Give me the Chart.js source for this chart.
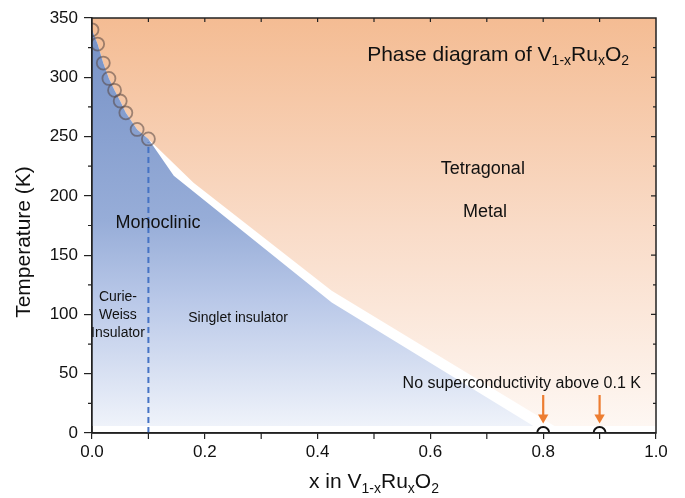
<!DOCTYPE html>
<html>
<head>
<meta charset="utf-8">
<script src="https://cdn.jsdelivr.net/npm/chart.js@4.4.1/dist/chart.umd.min.js"></script>
<style>
  html, body { margin: 0; padding: 0; background: #fff; }
</style>
</head>
<body>
<canvas id="phaseChart" width="685" height="498"></canvas>
<script>
// transition temperatures (K) for low Ru content
var dopingX = [0, 0.01, 0.02, 0.03, 0.04, 0.05, 0.06, 0.08, 0.10];
var transitionT = [340, 328, 312, 299, 289, 280, 270, 256, 248];

// monoclinic / tetragonal boundaries past the measured points
var monoTailX = [0.145, 0.425, 0.782];
var monoTailT = [217, 110, 6];
var tetraTailX = [0.18, 0.425, 0.82, 1.0];
var tetraTailT = [211, 120, 6, 6];
var regionFloor = 6;

// Curie-Weiss / singlet crossover
var crossoverX = [0.1, 0.1];
var crossoverT = [0, 245];

// samples checked for superconductivity
var scX = [0.8, 0.9];
var scT = [0, 0];
var arrowTop = 32, arrowTip = 13;

var xTicks = [0, 0.2, 0.4, 0.6, 0.8, 1.0];
var yTicks = [0, 50, 100, 150, 200, 250, 300, 350];

var FONT = '"Liberation Sans", Arial, sans-serif';

function pts(xs, ys) {
  return xs.map(function (x, i) { return { x: x, y: ys[i] }; });
}

function vGrad(chart, stops) {
  var a = chart.chartArea;
  if (!a) return null;
  var g = chart.ctx.createLinearGradient(0, a.top, 0, a.bottom);
  stops.forEach(function (s) { g.addColorStop(s[0], s[1]); });
  return g;
}

// text with subscripts, centred on (cx, cy)
function drawRuns(c, runs, cx, cy, size) {
  var sub = Math.round(size * 0.65);
  var w = 0;
  runs.forEach(function (r) {
    c.font = (r[1] ? sub : size) + 'px ' + FONT;
    w += c.measureText(r[0]).width;
  });
  var x = cx - w / 2;
  c.textAlign = 'left';
  c.textBaseline = 'middle';
  runs.forEach(function (r) {
    c.font = (r[1] ? sub : size) + 'px ' + FONT;
    c.fillText(r[0], x, cy + (r[1] ? size * 0.32 : 0));
    x += c.measureText(r[0]).width;
  });
}

var labels = [
  { runs: [['Phase diagram of V'], ['1-x', 1], ['Ru'], ['x', 1], ['O'], ['2', 1]], x: 0.72, y: 319, size: 21 },
  { runs: [['Tetragonal']], x: 0.693, y: 223, size: 18 },
  { runs: [['Metal']], x: 0.697, y: 186, size: 18 },
  { runs: [['Monoclinic']], x: 0.117, y: 177, size: 18 },
  { runs: [['Curie-']], x: 0.046, y: 115, size: 14 },
  { runs: [['Weiss']], x: 0.046, y: 99.5, size: 14 },
  { runs: [['Insulator']], x: 0.046, y: 84.5, size: 14 },
  { runs: [['Singlet insulator']], x: 0.259, y: 97, size: 14 },
  { runs: [['No superconductivity above 0.1 K']], x: 0.762, y: 42, size: 16 }
];

var framePlugin = {
  id: 'frame',
  afterDatasetsDraw: function (chart) {
    var c = chart.ctx, a = chart.chartArea, xs = chart.scales.x, ys = chart.scales.y;
    c.save();
    c.strokeStyle = '#222';
    c.lineWidth = 1.5;
    c.strokeRect(a.left, a.top, a.right - a.left, a.bottom - a.top);
    c.lineWidth = 1.2;
    c.beginPath();
    for (var i = 1; i < 10; i++) {
      var px = xs.getPixelForValue(i / 10);
      c.moveTo(px, a.top); c.lineTo(px, a.top + 4);
      if (i % 2) { c.moveTo(px, a.bottom); c.lineTo(px, a.bottom + 6); }
    }
    for (var t = 25; t < 350; t += 25) {
      var py = ys.getPixelForValue(t);
      var major = t % 50 === 0;
      c.moveTo(a.right, py); c.lineTo(a.right - (major ? 5 : 3), py);
      if (!major) { c.moveTo(a.left, py); c.lineTo(a.left - 4, py); }
    }
    c.stroke();

    c.fillStyle = '#111';
    labels.forEach(function (l) {
      drawRuns(c, l.runs, xs.getPixelForValue(l.x), ys.getPixelForValue(l.y), l.size);
    });

    // axis titles
    drawRuns(c, [['x in V'], ['1-x', 1], ['Ru'], ['x', 1], ['O'], ['2', 1]], (a.left + a.right) / 2, 482, 21);
    c.save();
    c.translate(24, 242);
    c.rotate(-Math.PI / 2);
    drawRuns(c, [['Temperature (K)']], 0, 0, 21);
    c.restore();
    c.restore();
  }
};

var datasets = [
  {
    data: pts(dopingX.concat(tetraTailX), transitionT.concat(tetraTailT)),
    fill: 'end', borderWidth: 0, pointRadius: 0, order: 6,
    backgroundColor: function (ctx) {
      return vGrad(ctx.chart, [[0, '#f4bc93'], [0.5, '#f9dbc7'], [1, '#fef8f4']]);
    }
  },
  {
    data: pts(dopingX.concat(monoTailX), transitionT.concat(monoTailT)),
    fill: { value: regionFloor }, borderWidth: 0, pointRadius: 0, order: 5,
    backgroundColor: function (ctx) {
      return vGrad(ctx.chart, [[0, '#7590c5'], [0.49, '#97add8'], [0.68, '#b9c8e8'], [1, '#f2f5fb']]);
    }
  },
  {
    data: pts(crossoverX, crossoverT),
    borderColor: '#4472c4', borderWidth: 2, borderDash: [6, 4], pointRadius: 0, fill: false, order: 4
  },
  {
    data: pts(dopingX, transitionT),
    showLine: false, pointRadius: 6.5, pointBorderWidth: 1.8,
    pointBorderColor: 'rgba(85,70,65,0.55)', pointBackgroundColor: 'rgba(0,0,0,0)', order: 3
  }
];

scX.forEach(function (x) {
  datasets.push({
    data: [{ x: x, y: arrowTop }, { x: x, y: arrowTip }],
    borderColor: '#ed7d31', borderWidth: 2.2, fill: false, order: 2,
    pointRadius: [0, 6], pointStyle: 'triangle', rotation: 180,
    pointBackgroundColor: '#ed7d31', pointBorderColor: '#ed7d31', pointBorderWidth: 0
  });
});

datasets.push({
  data: pts(scX, scT),
  showLine: false, pointRadius: 6, pointBorderWidth: 2, clip: 0,
  pointBorderColor: '#111', pointBackgroundColor: 'rgba(0,0,0,0)', order: 1
});

new Chart(document.getElementById('phaseChart'), {
  type: 'line',
  data: { datasets: datasets },
  options: {
    responsive: false,
    animation: false,
    layout: { padding: { top: 18, right: 29, left: 0, bottom: 0 } },
    plugins: { legend: { display: false }, tooltip: { enabled: false } },
    elements: { line: { tension: 0 } },
    scales: {
      x: {
        type: 'linear', min: 0, max: 1,
        afterBuildTicks: function (s) { s.ticks = xTicks.map(function (v) { return { value: v }; }); },
        afterFit: function (s) { s.height = 65; },
        ticks: {
          padding: 3, color: '#111', font: { family: FONT, size: 17 },
          callback: function (v) { return v.toFixed(1); }
        },
        grid: { drawOnChartArea: false, drawTicks: true, tickLength: 6, color: '#222', lineWidth: 1.2 },
        border: { display: true, color: '#222', width: 1.5 }
      },
      y: {
        type: 'linear', min: 0, max: 350,
        afterBuildTicks: function (s) { s.ticks = yTicks.map(function (v) { return { value: v }; }); },
        afterFit: function (s) { s.width = 92; },
        ticks: {
          padding: 6, color: '#111', font: { family: FONT, size: 17 },
          callback: function (v) { return String(v); }
        },
        grid: { drawOnChartArea: false, drawTicks: true, tickLength: 8, color: '#222', lineWidth: 1.2 },
        border: { display: true, color: '#222', width: 1.5 }
      }
    }
  },
  plugins: [framePlugin]
});
</script>
</body>
</html>
